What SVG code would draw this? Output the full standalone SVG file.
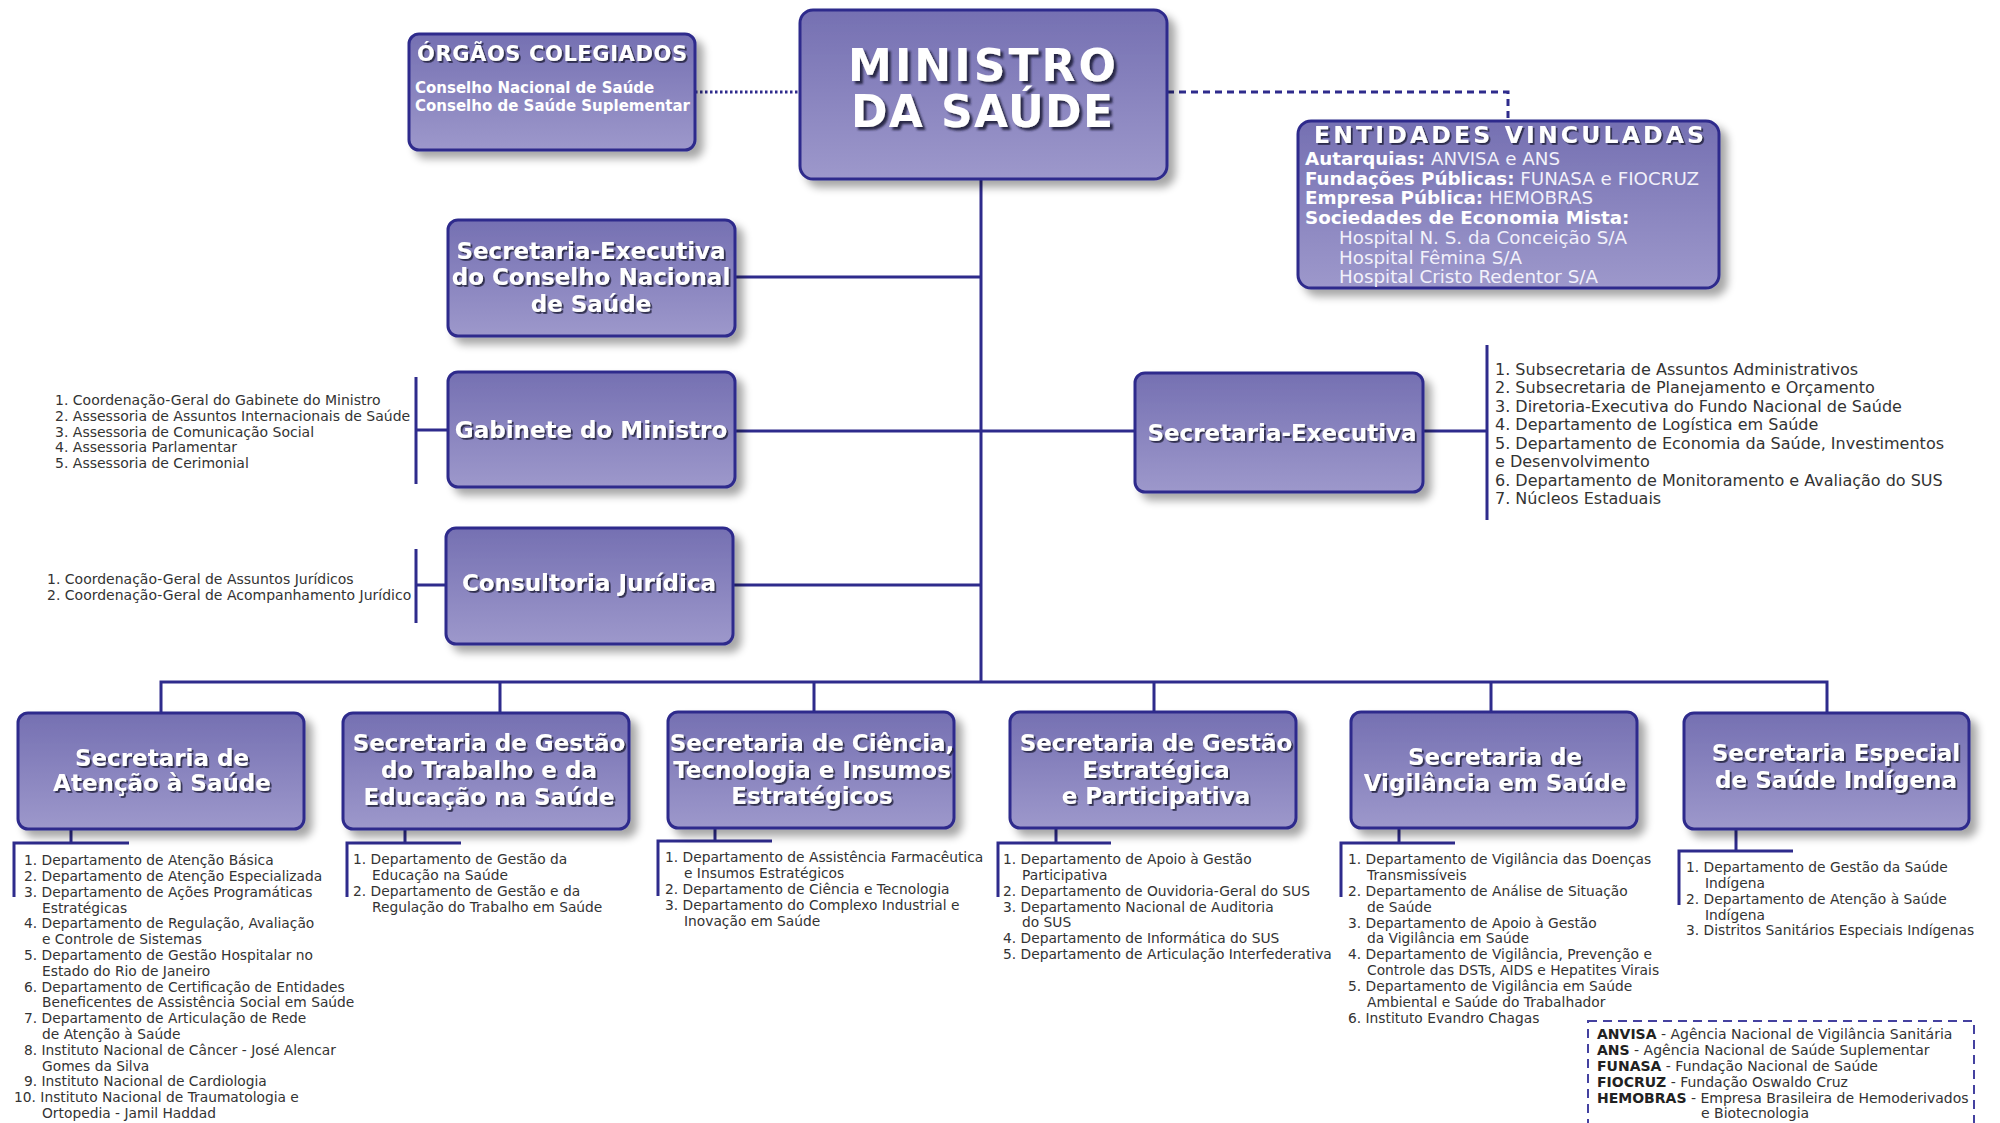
<svg xmlns="http://www.w3.org/2000/svg" width="2000" height="1123" viewBox="0 0 2000 1123">
  <defs>
    <linearGradient id="boxFill" x1="0" y1="0" x2="0" y2="1">
      <stop offset="0" stop-color="#7570b2"/>
      <stop offset="1" stop-color="#9d98cb"/>
    </linearGradient>
    <filter id="boxShadow" x="-10%" y="-10%" width="125%" height="130%">
      <feGaussianBlur in="SourceAlpha" stdDeviation="4"/>
      <feOffset dx="7" dy="7" result="blur"/>
      <feComponentTransfer><feFuncA type="linear" slope="0.35"/></feComponentTransfer>
      <feMerge><feMergeNode/><feMergeNode in="SourceGraphic"/></feMerge>
    </filter>
    <filter id="textShadow" x="-5%" y="-20%" width="110%" height="150%">
      <feDropShadow dx="1.8" dy="1.8" stdDeviation="0.6" flood-color="#1c1b3a" flood-opacity="0.85"/>
    </filter>
    <filter id="bigShadow" x="-5%" y="-20%" width="110%" height="150%">
      <feDropShadow dx="3" dy="3" stdDeviation="0.8" flood-color="#1c1b3a" flood-opacity="0.9"/>
    </filter>
  </defs>
  <style>
    .box { fill: url(#boxFill); stroke: #2e2b8c; stroke-width: 3; filter: url(#boxShadow); }
    .title { font-family: "DejaVu Sans", Verdana, sans-serif; font-weight: bold; font-size: 23px; fill: #ffffff; text-anchor: middle; filter: url(#textShadow); }
    .big { font-family: "DejaVu Sans", Verdana, sans-serif; font-weight: bold; font-size: 44px; fill: #ffffff; text-anchor: middle; filter: url(#bigShadow); }
    .hdr { font-family: "DejaVu Sans", Verdana, sans-serif; font-weight: bold; font-size: 21px; fill: #ffffff; text-anchor: middle; filter: url(#textShadow); }
    .hdr2 { font-family: "DejaVu Sans", Verdana, sans-serif; font-weight: bold; font-size: 23.5px; fill: #ffffff; text-anchor: middle; filter: url(#textShadow); }
    .inb { font-family: "DejaVu Sans", Verdana, sans-serif; font-weight: bold; font-size: 15px; fill: #ffffff; }
    .ent { font-family: "DejaVu Sans", Verdana, sans-serif; font-size: 18.3px; fill: #f2f1fa; }
    .ent .b { font-weight: bold; fill: #ffffff; }
    .li { font-family: "DejaVu Sans", Verdana, sans-serif; font-size: 13.8px; fill: #333333; }
    .lg { font-family: "DejaVu Sans", Verdana, sans-serif; font-size: 16px; fill: #333333; }
    .lb { font-weight: bold; fill: #222222; }
    .wire { fill: none; stroke: #2e2b8c; stroke-width: 3; }
    .dot { fill: none; stroke: #2e2b8c; stroke-width: 3; stroke-dasharray: 2.5 2.5; }
    .dash { fill: none; stroke: #2e2b8c; stroke-width: 3; stroke-dasharray: 7 5; }
    .legendBox { fill: none; stroke: #4441a0; stroke-width: 2; stroke-dasharray: 9 6; }
  </style>

  <!-- connectors -->
  <g id="connectors">
    <path class="dot" d="M695 92 H800"/>
    <path class="dash" d="M1167 92 H1508 V121"/>
    <path class="wire" d="M981 179 V682"/>
    <path class="wire" d="M735 277 H981"/>
    <path class="wire" d="M735 431 H1135"/>
    <path class="wire" d="M733 585 H981"/>
    <path class="wire" d="M161 713 V682 H1827 V713"/>
    <path class="wire" d="M500 682 V713 M814 682 V712 M1154 682 V712 M1491 682 V712"/>
    <!-- side brackets -->
    <path class="wire" d="M1423 431 H1487 M1487 345 V520"/>
    <path class="wire" d="M448 430 H416 M416 377 V484"/>
    <path class="wire" d="M446 585 H416 M416 549 V623"/>
    <!-- brackets under the secretariats -->
    <path class="wire" d="M71 829 V843 M129 843 H14 V897"/>
    <path class="wire" d="M405 829 V843 M461 843 H347 V897"/>
    <path class="wire" d="M715 828 V841 M772 841 H658 V896"/>
    <path class="wire" d="M1056 828 V843 M1111 843 H998 V897"/>
    <path class="wire" d="M1399 828 V843 M1455 843 H1341 V897"/>
    <path class="wire" d="M1736 829 V851 M1793 851 H1679 V905"/>
  </g>

  <!-- top level -->
  <g id="ministro">
    <rect class="box" x="800" y="10" width="367" height="169" rx="13"/>
    <text class="big" x="982" y="81" textLength="268" lengthAdjust="spacing">MINISTRO</text>
    <text class="big" x="982" y="127" textLength="262" lengthAdjust="spacing">DA SAÚDE</text>
  </g>

  <g id="orgaos-colegiados">
    <rect class="box" x="409" y="34" width="286" height="116" rx="10"/>
    <text class="hdr" x="552" y="61" textLength="270" lengthAdjust="spacing">ÓRGÃOS COLEGIADOS</text>
    <text class="inb" x="415" y="93">Conselho Nacional de Saúde</text>
    <text class="inb" x="415" y="111">Conselho de Saúde Suplementar</text>
  </g>

  <g id="entidades-vinculadas">
    <rect class="box" x="1298" y="121" width="421" height="167" rx="13"/>
    <text class="hdr2" x="1509" y="143" textLength="390" lengthAdjust="spacing">ENTIDADES VINCULADAS</text>
    <text class="ent">
      <tspan x="1305" y="165"><tspan class="b">Autarquias:</tspan> ANVISA e ANS</tspan>
      <tspan x="1305" y="185"><tspan class="b">Fundações Públicas:</tspan> FUNASA e FIOCRUZ</tspan>
      <tspan x="1305" y="204"><tspan class="b">Empresa Pública:</tspan> HEMOBRAS</tspan>
      <tspan x="1305" y="224" class="b">Sociedades de Economia Mista:</tspan>
      <tspan x="1339" y="244">Hospital N. S. da Conceição S/A</tspan>
      <tspan x="1339" y="264">Hospital Fêmina S/A</tspan>
      <tspan x="1339" y="283">Hospital Cristo Redentor S/A</tspan>
    </text>
  </g>

  <!-- advisory units -->
  <g id="se-cns">
    <rect class="box" x="448" y="220" width="287" height="116" rx="10"/>
    <text class="title" x="591" y="259">Secretaria-Executiva</text>
    <text class="title" x="591" y="285">do Conselho Nacional</text>
    <text class="title" x="591" y="312">de Saúde</text>
  </g>

  <g id="gabinete">
    <rect class="box" x="448" y="372" width="287" height="115" rx="10"/>
    <text class="title" x="591" y="438">Gabinete do Ministro</text>
    <text class="li" style="font-size:14px">
      <tspan x="55" y="405">1. Coordenação-Geral do Gabinete do Ministro</tspan>
      <tspan x="55" y="421">2. Assessoria de Assuntos Internacionais de Saúde</tspan>
      <tspan x="55" y="437">3. Assessoria de Comunicação Social</tspan>
      <tspan x="55" y="452">4. Assessoria Parlamentar</tspan>
      <tspan x="55" y="468">5. Assessoria de Cerimonial</tspan>
    </text>
  </g>

  <g id="consultoria">
    <rect class="box" x="446" y="528" width="287" height="116" rx="10"/>
    <text class="title" x="589" y="591">Consultoria Jurídica</text>
    <text class="li" style="font-size:14px">
      <tspan x="47" y="584">1. Coordenação-Geral de Assuntos Jurídicos</tspan>
      <tspan x="47" y="600">2. Coordenação-Geral de Acompanhamento Jurídico</tspan>
    </text>
  </g>

  <g id="secretaria-executiva">
    <rect class="box" x="1135" y="373" width="288" height="119" rx="10"/>
    <text class="title" x="1282" y="441">Secretaria-Executiva</text>
    <text class="lg">
      <tspan x="1495" y="375">1. Subsecretaria de Assuntos Administrativos</tspan>
      <tspan x="1495" y="393">2. Subsecretaria de Planejamento e Orçamento</tspan>
      <tspan x="1495" y="412">3. Diretoria-Executiva do Fundo Nacional de Saúde</tspan>
      <tspan x="1495" y="430">4. Departamento de Logística em Saúde</tspan>
      <tspan x="1495" y="449">5. Departamento de Economia da Saúde, Investimentos</tspan>
      <tspan x="1495" y="467">e Desenvolvimento</tspan>
      <tspan x="1495" y="486">6. Departamento de Monitoramento e Avaliação do SUS</tspan>
      <tspan x="1495" y="504">7. Núcleos Estaduais</tspan>
    </text>
  </g>

  <!-- secretariats -->
  <g id="sas">
    <rect class="box" x="18" y="713" width="286" height="116" rx="10"/>
    <text class="title" x="162" y="766">Secretaria de</text>
    <text class="title" x="162" y="791">Atenção à Saúde</text>
    <text class="li">
      <tspan x="24" y="865">1. Departamento de Atenção Básica</tspan>
      <tspan x="24" y="881">2. Departamento de Atenção Especializada</tspan>
      <tspan x="24" y="897">3. Departamento de Ações Programáticas</tspan>
      <tspan x="42" y="913">Estratégicas</tspan>
      <tspan x="24" y="928">4. Departamento de Regulação, Avaliação</tspan>
      <tspan x="42" y="944">e Controle de Sistemas</tspan>
      <tspan x="24" y="960">5. Departamento de Gestão Hospitalar no</tspan>
      <tspan x="42" y="976">Estado do Rio de Janeiro</tspan>
      <tspan x="24" y="992">6. Departamento de Certificação de Entidades</tspan>
      <tspan x="42" y="1007">Beneficentes de Assistência Social em Saúde</tspan>
      <tspan x="24" y="1023">7. Departamento de Articulação de Rede</tspan>
      <tspan x="42" y="1039">de Atenção à Saúde</tspan>
      <tspan x="24" y="1055">8. Instituto Nacional de Câncer - José Alencar</tspan>
      <tspan x="42" y="1071">Gomes da Silva</tspan>
      <tspan x="24" y="1086">9. Instituto Nacional de Cardiologia</tspan>
      <tspan x="14" y="1102">10. Instituto Nacional de Traumatologia e</tspan>
      <tspan x="42" y="1118">Ortopedia - Jamil Haddad</tspan>
    </text>
  </g>

  <g id="sgtes">
    <rect class="box" x="343" y="713" width="286" height="116" rx="10"/>
    <text class="title" x="489" y="751">Secretaria de Gestão</text>
    <text class="title" x="489" y="778">do Trabalho e da</text>
    <text class="title" x="489" y="805">Educação na Saúde</text>
    <text class="li">
      <tspan x="353" y="864">1. Departamento de Gestão da</tspan>
      <tspan x="372" y="880">Educação na Saúde</tspan>
      <tspan x="353" y="896">2. Departamento de Gestão e da</tspan>
      <tspan x="372" y="912">Regulação do Trabalho em Saúde</tspan>
    </text>
  </g>

  <g id="sctie">
    <rect class="box" x="668" y="712" width="286" height="116" rx="10"/>
    <text class="title" x="812" y="751">Secretaria de Ciência,</text>
    <text class="title" x="812" y="778">Tecnologia e Insumos</text>
    <text class="title" x="812" y="804">Estratégicos</text>
    <text class="li">
      <tspan x="665" y="862">1. Departamento de Assistência Farmacêutica</tspan>
      <tspan x="684" y="878">e Insumos Estratégicos</tspan>
      <tspan x="665" y="894">2. Departamento de Ciência e Tecnologia</tspan>
      <tspan x="665" y="910">3. Departamento do Complexo Industrial e</tspan>
      <tspan x="684" y="926">Inovação em Saúde</tspan>
    </text>
  </g>

  <g id="sgep">
    <rect class="box" x="1010" y="712" width="286" height="116" rx="10"/>
    <text class="title" x="1156" y="751">Secretaria de Gestão</text>
    <text class="title" x="1156" y="778">Estratégica</text>
    <text class="title" x="1156" y="804">e Participativa</text>
    <text class="li">
      <tspan x="1003" y="864">1. Departamento de Apoio à Gestão</tspan>
      <tspan x="1022" y="880">Participativa</tspan>
      <tspan x="1003" y="896">2. Departamento de Ouvidoria-Geral do SUS</tspan>
      <tspan x="1003" y="912">3. Departamento Nacional de Auditoria</tspan>
      <tspan x="1022" y="927">do SUS</tspan>
      <tspan x="1003" y="943">4. Departamento de Informática do SUS</tspan>
      <tspan x="1003" y="959">5. Departamento de Articulação Interfederativa</tspan>
    </text>
  </g>

  <g id="svs">
    <rect class="box" x="1351" y="712" width="286" height="116" rx="10"/>
    <text class="title" x="1495" y="765">Secretaria de</text>
    <text class="title" x="1495" y="791">Vigilância em Saúde</text>
    <text class="li">
      <tspan x="1348" y="864">1. Departamento de Vigilância das Doenças</tspan>
      <tspan x="1367" y="880">Transmissíveis</tspan>
      <tspan x="1348" y="896">2. Departamento de Análise de Situação</tspan>
      <tspan x="1367" y="912">de Saúde</tspan>
      <tspan x="1348" y="928">3. Departamento de Apoio à Gestão</tspan>
      <tspan x="1367" y="943">da Vigilância em Saúde</tspan>
      <tspan x="1348" y="959">4. Departamento de Vigilância, Prevenção e</tspan>
      <tspan x="1367" y="975">Controle das DSTs, AIDS e Hepatites Virais</tspan>
      <tspan x="1348" y="991">5. Departamento de Vigilância em Saúde</tspan>
      <tspan x="1367" y="1007">Ambiental e Saúde do Trabalhador</tspan>
      <tspan x="1348" y="1023">6. Instituto Evandro Chagas</tspan>
    </text>
  </g>

  <g id="sesai">
    <rect class="box" x="1684" y="713" width="285" height="116" rx="10"/>
    <text class="title" x="1836" y="761">Secretaria Especial</text>
    <text class="title" x="1836" y="788">de Saúde Indígena</text>
    <text class="li">
      <tspan x="1686" y="872">1. Departamento de Gestão da Saúde</tspan>
      <tspan x="1705" y="888">Indígena</tspan>
      <tspan x="1686" y="904">2. Departamento de Atenção à Saúde</tspan>
      <tspan x="1705" y="920">Indígena</tspan>
      <tspan x="1686" y="935">3. Distritos Sanitários Especiais Indígenas</tspan>
    </text>
  </g>

  <!-- abbreviations -->
  <g id="legenda">
    <rect class="legendBox" x="1588" y="1021" width="386" height="140"/>
    <text class="li" style="font-size:14px">
      <tspan x="1597" y="1039"><tspan class="lb">ANVISA</tspan> - Agência Nacional de Vigilância Sanitária</tspan>
      <tspan x="1597" y="1055"><tspan class="lb">ANS</tspan> - Agência Nacional de Saúde Suplementar</tspan>
      <tspan x="1597" y="1071"><tspan class="lb">FUNASA</tspan> - Fundação Nacional de Saúde</tspan>
      <tspan x="1597" y="1087"><tspan class="lb">FIOCRUZ</tspan> - Fundação Oswaldo Cruz</tspan>
      <tspan x="1597" y="1103"><tspan class="lb">HEMOBRAS</tspan> - Empresa Brasileira de Hemoderivados</tspan>
      <tspan x="1701" y="1118">e Biotecnologia</tspan>
    </text>
  </g>
</svg>
